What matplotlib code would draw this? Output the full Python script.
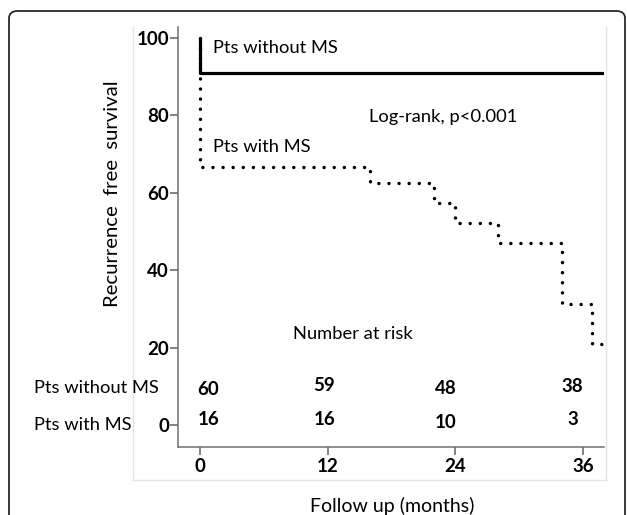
import matplotlib
matplotlib.use("Agg")
import matplotlib.pyplot as plt
from matplotlib.patches import FancyBboxPatch
from matplotlib.lines import Line2D

# ---- data ----
times_without = [0, 0, 38]
surv_without = [100, 91, 91]
times_with = [0, 0, 16, 22, 24, 28, 34, 36.8, 37.9]
surv_with = [100, 66.7, 62.5, 57.3, 52.2, 47.0, 31.3, 20.8, 20.8]
risk_times = [0, 12, 24, 36]
risk_without = [60, 59, 48, 38]
risk_with = [16, 16, 10, 3]
x_ticks = [0, 12, 24, 36]
y_ticks = [0, 20, 40, 60, 80, 100]

plt.rcParams['font.family'] = ['Lato', 'DejaVu Sans']

W, H = 627, 515
fig = plt.figure(figsize=(W / 100, H / 100), dpi=100)

def fx(px):
    return px / W

def fy(py):
    return 1 - py / H

# outer rounded box
box = FancyBboxPatch((fx(9), fy(540)), fx(625) - fx(9), fy(11) - fy(540),
                     boxstyle="round,pad=0,rounding_size=0.014",
                     transform=fig.transFigure, facecolor='none',
                     edgecolor='#2a2a2a', linewidth=1.3, clip_on=False)
fig.patches.append(box)

# light gray inner frame (left, bottom, right)
gray = '#e4e4e4'
fig.add_artist(Line2D([fx(133), fx(133)], [fy(27), fy(480)], color=gray, lw=1.0))
fig.add_artist(Line2D([fx(133), fx(606)], [fy(480), fy(480)], color=gray, lw=1.0))
fig.add_artist(Line2D([fx(606), fx(606)], [fy(27), fy(480)], color=gray, lw=1.0))

ax = fig.add_axes([fx(178), fy(447), fx(604) - fx(178), fy(27) - fy(447)])
ax.set_xlim(-2.06, 37.95)
ax.set_ylim(-5.7, 102.8)

ax.step(times_without, surv_without, where='post', color='black', lw=2.3,
        solid_capstyle='butt')
ax.step(times_with, surv_with, where='post', color='black', lw=2.5,
        linestyle=(0, (0.01, 2.9)), dash_capstyle='round', clip_on=False)

for s in ['top', 'right']:
    ax.spines[s].set_visible(False)
for s in ['left', 'bottom']:
    ax.spines[s].set_color('#707070')
    ax.spines[s].set_linewidth(1.1)

ax.set_xticks(x_ticks)
ax.set_yticks(y_ticks)
ax.tick_params(axis='both', length=6, width=1.1, color='#606060',
               labelsize=13.5, labelcolor='black')
ax.tick_params(axis='y', pad=0.5)
ax.tick_params(axis='x', pad=2)
for lab in ax.get_xticklabels() + ax.get_yticklabels():
    lab.set_fontweight('bold')

# annotations
ax.text(1.2, 97.4, 'Pts without MS', fontsize=13.2, va='center', ha='left')
ax.text(1.2, 71.8, 'Pts with MS', fontsize=13.2, va='center', ha='left')
ax.text(22.8, 79.6, 'Log-rank, p<0.001', fontsize=13.2, va='center', ha='center')
ax.text(14.4, 23.5, 'Number at risk', fontsize=13.2, va='center', ha='center')

# number at risk table
col_off = [0.8, -0.3, -0.9, -1.0]
row1_dy = [-0.7, 0.3, -0.5, 0.0]
row2_dy = [0.3, 0.3, -0.3, 0.3]
for t, n, o, d in zip(risk_times, risk_without, col_off, row1_dy):
    ax.text(t + o, 9.8 + d, str(n), fontsize=13.5, fontweight='bold',
            ha='center', va='center')
for t, n, o, d in zip(risk_times, risk_with, col_off, row2_dy):
    ax.text(t + o, 1.0 + d, str(n), fontsize=13.5, fontweight='bold',
            ha='center', va='center')

fig.text(fx(34), fy(388), 'Pts without MS', fontsize=13.2, va='center', ha='left')
fig.text(fx(34), fy(425), 'Pts with MS', fontsize=13.2, va='center', ha='left')

fig.text(fx(113), fy(194), 'Recurrence  free  survival', fontsize=14.6,
         rotation=90, va='center', ha='center')
fig.text(fx(392), fy(506), 'Follow up (months)', fontsize=14,
         va='center', ha='center')

fig.savefig('out.png', dpi=100)
